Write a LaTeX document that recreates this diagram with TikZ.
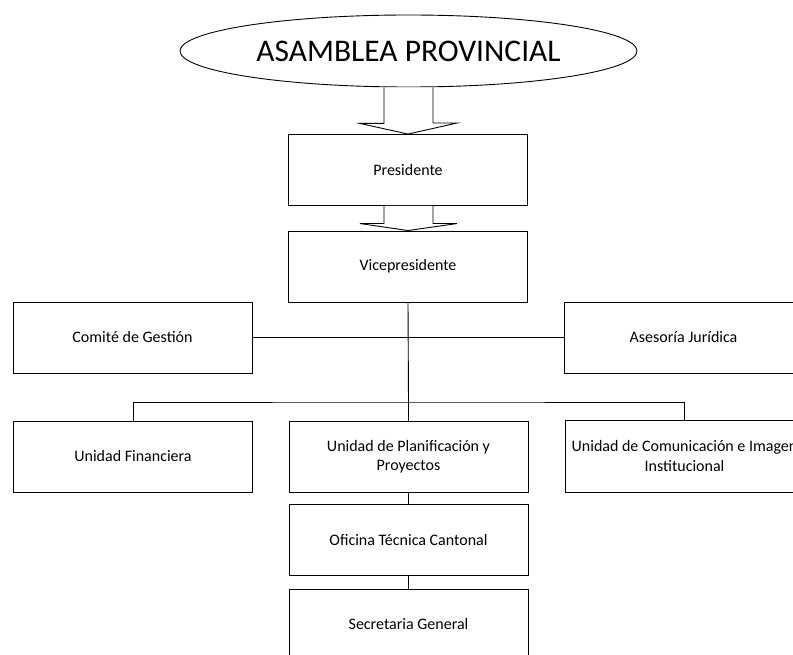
\documentclass[tikz,border=0pt]{standalone}
\usepackage{fontspec}
\setmainfont{Carlito}
\usetikzlibrary{shapes.geometric,calc}
\begin{document}
\begin{tikzpicture}[x=1pt,y=-1pt,
  line width=0.9pt,
  box/.style={draw, rectangle, minimum width=239pt, minimum height=71pt, inner sep=2pt, align=center, font=\fontsize{16}{19.5}\selectfont},
  link/.style={draw, line width=0.9pt},
  blockarrow/.style={draw, fill=white, line width=0.9pt, line join=miter}]
\useasboundingbox (0,0) rectangle (793,655);
\node[draw, ellipse, minimum width=457pt, minimum height=72pt, inner sep=0pt, font=\fontsize{31.5}{36}\selectfont] (asam) at (408.5,51) {ASAMBLEA PROVINCIAL};
\node[box] (pres) at (408,170) {Presidente};
\node[box] (vice) at (408,266.5) {Vicepresidente};
\node[box] (comite) at (132.5,337.5) {Comité de Gestión};
\node[box] (ases) at (683.5,337.5) {Asesoría Jurídica};
\node[box] (fin) at (133,456.5) {Unidad Financiera};
\node[box] (plan) at (408.5,456.5) {Unidad de Planificación y\\Proyectos};
\node[box, minimum height=72pt] (com) at (684.5,456) {Unidad de Comunicación e Imagen\\Institucional};
\node[box] (ofi) at (408.5,540) {Oficina Técnica Cantonal};
\node[box] (sec) at (408.5,624.5) {Secretaria General};
% block arrows
\path[blockarrow] ($(asam.south)+(-24.5,0)$) -- ++(0,36) -- ++(-24,0) -- (pres.north) -- ($(pres.north)+(49,-11)$) -- ($(pres.north)+(25,-11)$) -- ($(asam.south)+(24.5,0)$);
\path[blockarrow] ($(pres.south)+(-24,0)$) -- ($(vice.north)+(-24,-7)$) -- ($(vice.north)+(-48,-7)$) -- (vice.north) -- ($(vice.north)+(49,-7)$) -- ($(vice.north)+(25,-7)$) -- ($(pres.south)+(25,0)$);
% connectors
\coordinate (bus) at (408.5,402);
\path[link] (vice.south) -- (bus);
\path[link] (comite.east) -- (ases.west);
\path[link] (fin.north) |- (bus) -| (com.north);
\path[link] (bus) -- (plan.north);
\path[link] (plan.south) -- (ofi.north);
\path[link] (ofi.south) -- (sec.north);
\end{tikzpicture}
\end{document}
